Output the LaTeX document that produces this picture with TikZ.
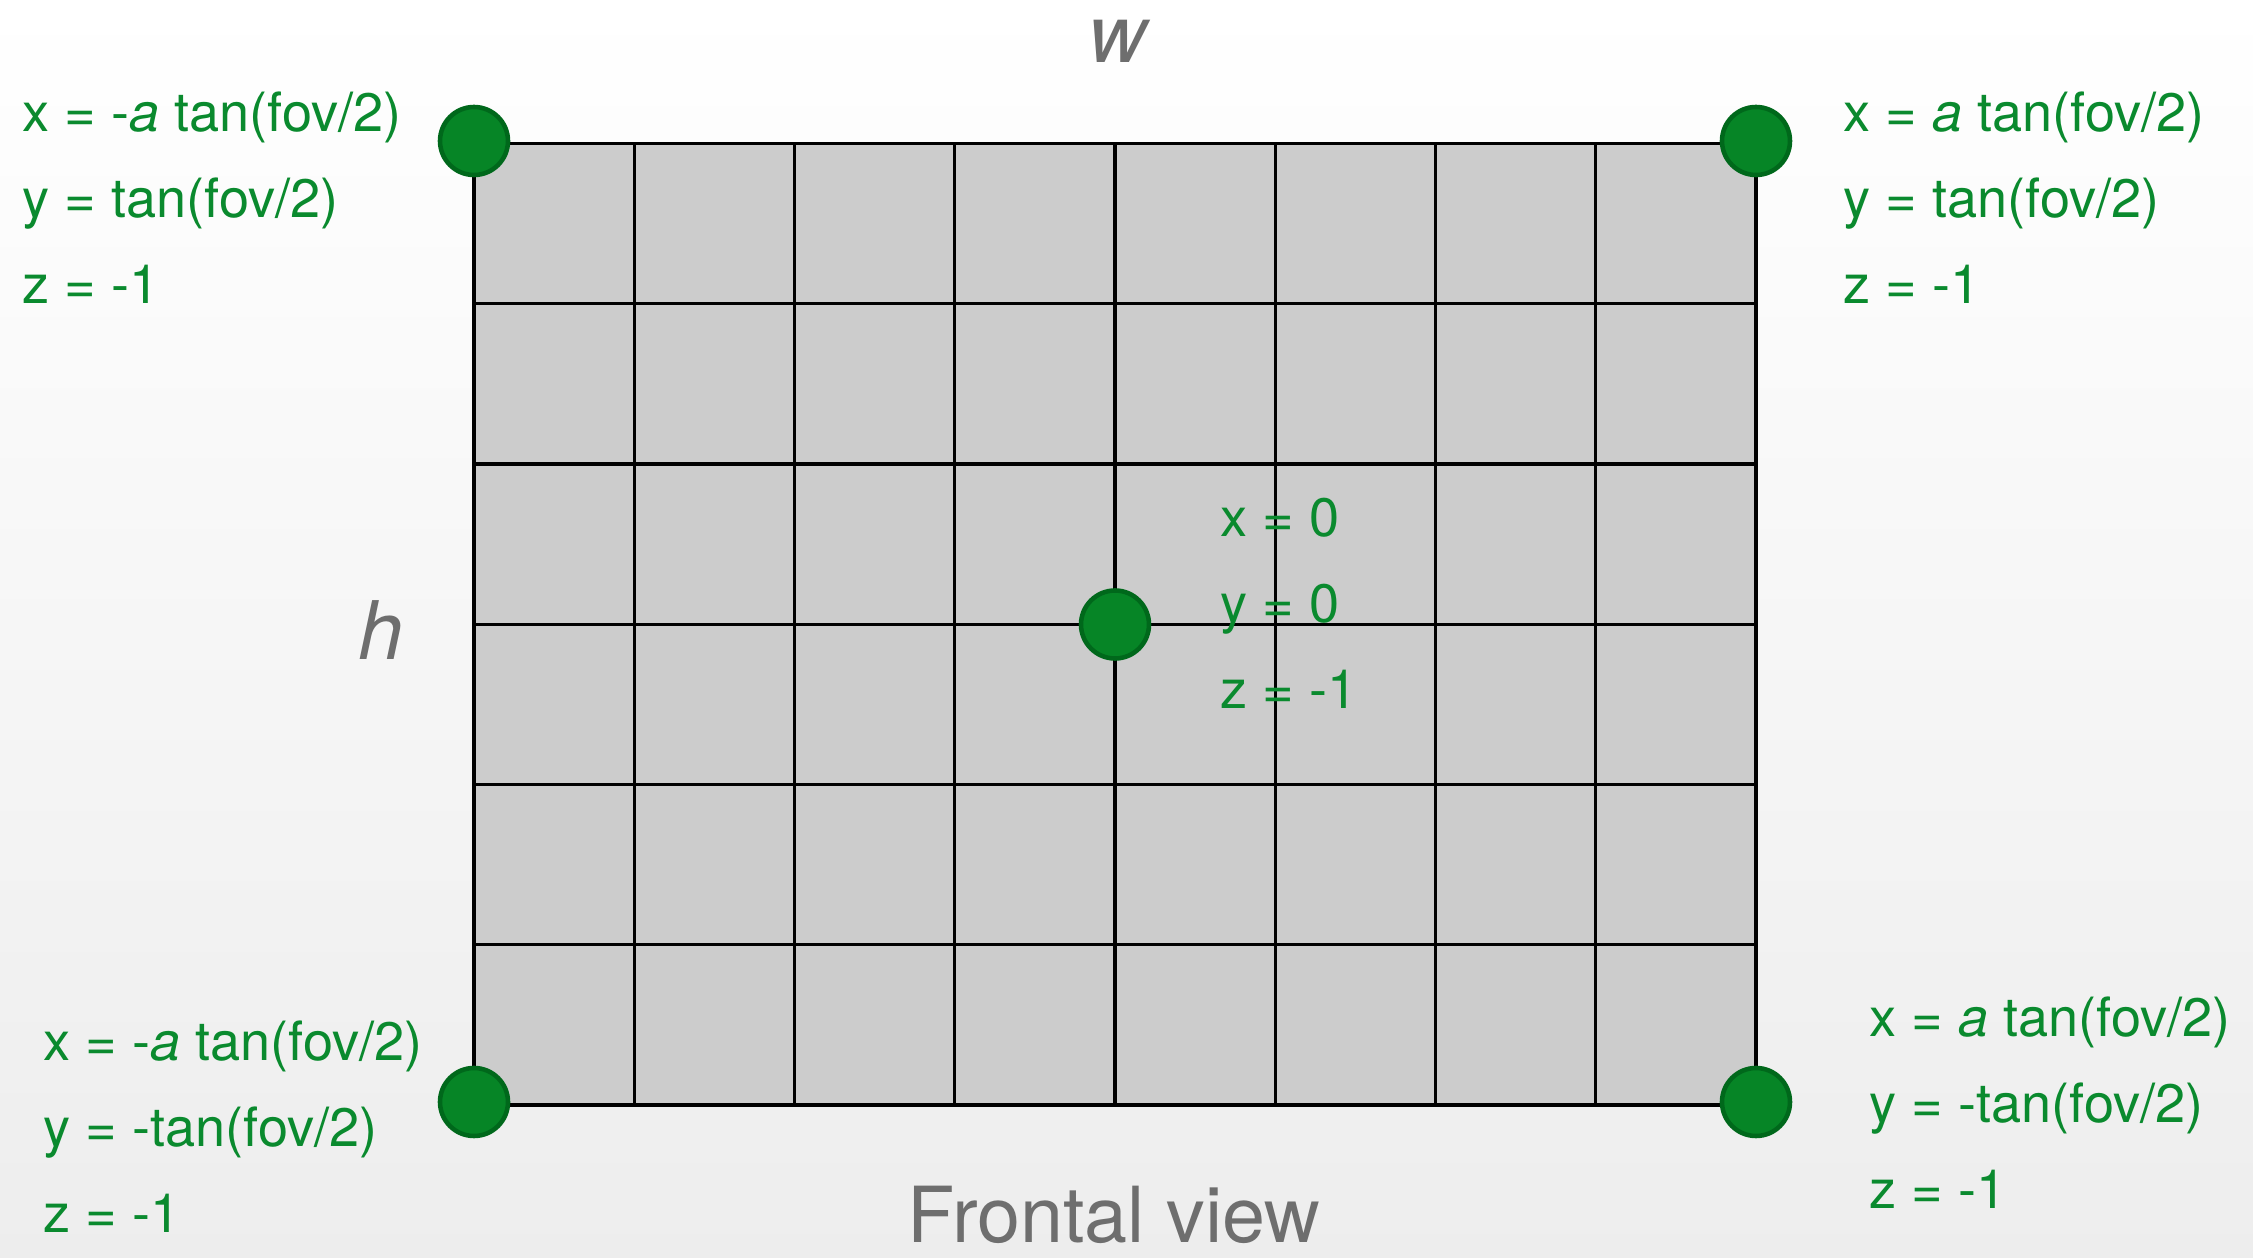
\documentclass[tikz,border=0pt]{standalone}
\usepackage{fontspec}
\setmainfont{TeX Gyre Heros}
\definecolor{ptgreen}{RGB}{10,138,46}
\definecolor{dotfill}{RGB}{6,133,38}
\definecolor{dotedge}{RGB}{0,104,27}
\definecolor{labelgray}{RGB}{110,110,110}
\definecolor{planegray}{RGB}{204,204,204}
\tikzset{
    coordtext/.style={text=ptgreen, align=left, anchor=west, inner sep=0pt,
        font=\fontsize{15.4}{24.5}\selectfont},
    corner/.style={circle, fill=dotfill, draw=dotedge, line width=1.3pt,
        minimum size=0.68cm, inner sep=0pt},
    axislabel/.style={text=labelgray, font=\fontsize{23}{28}\selectfont\itshape}
}
\begin{document}
\begin{tikzpicture}
    % Background
    \shade[top color=white, bottom color=black!7] (0,0) rectangle (22.53,12.58);
    \useasboundingbox (0,0) rectangle (22.53,12.58);

    % Image plane, 8 x 6 pixels
    \begin{scope}[shift={(4.74,1.53)}, scale=1.6025]
        \fill[planegray] (0,0) rectangle (8,6);
        \draw[line width=0.9pt] (0,0) grid (8,6);
    \end{scope}

    % Corner and centre points
    \node[corner] (tl) at (4.74,11.17) {};
    \node[corner] (tr) at (17.56,11.17) {};
    \node[corner] (bl) at (4.74,1.56) {};
    \node[corner] (br) at (17.56,1.56) {};
    \node[corner] (ctr) at (11.15,6.335) {};

    % Coordinates of the points
    \node[coordtext] (tltext) at (0.22,10.60)
        {x = -\textit{a} tan(fov/2)\\ y = tan(fov/2)\\ z = -1};
    \node[coordtext] (trtext) at (18.43,10.60)
        {x = \textit{a} tan(fov/2)\\ y = tan(fov/2)\\ z = -1};
    \node[coordtext] (ctrtext) at (12.20,6.55)
        {x = 0\\ y = 0\\ z = -1};
    \node[coordtext] (bltext) at (0.43,1.31)
        {x = -\textit{a} tan(fov/2)\\ y = -tan(fov/2)\\ z = -1};
    \node[coordtext] (brtext) at (18.69,1.55)
        {x = \textit{a} tan(fov/2)\\ y = -tan(fov/2)\\ z = -1};

    % Width, height and caption
    \node[axislabel] (wlabel) at (11.18,12.17) {w};
    \node[axislabel] (hlabel) at (3.81,6.28) {h};
    \node[text=labelgray, inner sep=0pt, font=\fontsize{22}{26}\selectfont] (caption)
        at (11.14,0.43) {Frontal view};

\end{tikzpicture}
\end{document}
